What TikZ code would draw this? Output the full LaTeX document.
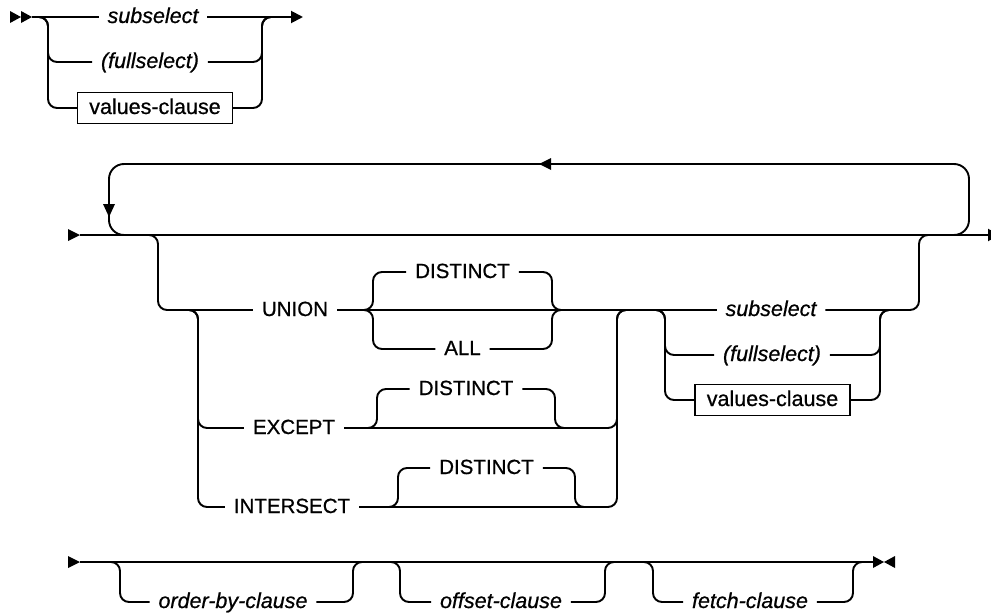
\documentclass[tikz,border=0pt]{standalone}
\usepackage{fontspec}
\setmainfont{Liberation Sans}
\usetikzlibrary{arrows.meta,positioning}

\begin{document}
\begin{tikzpicture}[
  x=1pt, y=-1pt,
  line width=1.9pt,
  rail/.style={rounded corners=9pt},
  back/.style={rounded corners=15pt},
  kw/.style={inner xsep=9pt, inner ysep=0pt, outer sep=0pt, text height=12pt,
             text depth=0pt, font=\fontsize{20.5}{24}\selectfont\addfontfeature{FakeBold=0.7}},
  var/.style={kw, font=\fontsize{21.5}{24}\selectfont\itshape\addfontfeature{FakeBold=0.7}},
  clause/.style={draw, line width=1.4pt, inner xsep=0pt, inner ysep=9.5pt, outer sep=0pt,
                 minimum width=155pt, text height=12pt, text depth=0pt,
                 font=\fontsize{21.5}{24}\selectfont\addfontfeature{FakeBold=0.7}},
  ar/.style={-{Triangle[length=12pt,width=12pt]}}
]
\useasboundingbox (0,0) rectangle (991,613);

% top line: subselect / (fullselect) / values-clause
\node[var] (s1) at (153,17) {subselect};
\node[var] (f1) at (150,62) {(fullselect)};
\node[clause] (v1) at (155,108) {values-clause};
\coordinate (a0) at (32,17);
\coordinate (a1) at (303,17);
\coordinate (tl) at (48,17);
\coordinate (tr) at (262,17);
\fill (10,11) -- (21,17) -- (10,23) -- cycle (21,11) -- (32,17) -- (21,23) -- cycle;
\draw (a0) -- (s1);
\draw[ar] (s1) -- (a1);
\foreach \n in {f1,v1} {
  \draw[rail] (a0) -| (tl |- \n) -- (\n);
  \draw[rail] (\n) -| (tr) -- ++(12,0);
}

% middle line with repeat loop
\coordinate (m0) at (80,235);
\coordinate (m1) at (1000,235);
\fill (68,229) -- (80,235) -- (68,241) -- cycle;
\draw[ar] (m0) -- (m1);
\draw[back] (950,235) -| (969,164) -| (109,235) -- (130,235);
\fill (551,158) -- (539,164) -- (551,170) -- cycle;
\fill (103,204) -- (109,217) -- (115,204) -- cycle;

% set operators
\node[kw] (un) at (295,310) {UNION};
\node[kw] (ex) at (294,428) {EXCEPT};
\node[kw] (it) at (292,507) {INTERSECT};
\foreach \n/\t/\l/\r/\y/\s in {d1/DISTINCT/373/552/310/272, al/ALL/373/552/310/349,
    d2/DISTINCT/377/555/428/389, d3/DISTINCT/398/575/507/468} {
  \node[kw] (\n) at ({(\l+\r)/2},\s) {\t};
  \draw[rail] ({\l-16},\y) -| (\l,\s) -- (\n);
  \draw[rail] (\n) -| (\r,\y) -- ({\r+16},\y);
}

% operand
\node[var] (s2) at (771,310) {subselect};
\node[var] (f2) at (772,355) {(fullselect)};
\node[clause] (v2) at (772.5,400) {values-clause};
\coordinate (gl) at (158,235);
\coordinate (gr) at (919,235);
\coordinate (ol) at (198,310);
\coordinate (or) at (617,310);
\coordinate (sl) at (665,310);
\coordinate (sr) at (880,310);
\draw[rail] ([xshift=-16pt]gl) -| (gl |- un) -- (un);
\draw (un) -- (s2);
\draw[rail] (s2) -| (gr) -- ++(14,0);
\foreach \n in {ex,it} {
  \draw[rail] ([xshift=-16pt]ol) -| (ol |- \n) -- (\n);
  \draw[rail] (\n) -| (or) -- ++(14,0);
}
\foreach \n in {f2,v2} {
  \draw[rail] ([xshift=-16pt]sl) -| (sl |- \n) -- (\n);
  \draw[rail] (\n) -| (sr) -- ++(14,0);
}

% bottom line: optional clauses
\coordinate (b0) at (80,562);
\coordinate (b1) at (873,562);
\fill (68,556) -- (80,562) -- (68,568) -- cycle;
\draw (b0) -- (b1);
\fill (873,556) -- (884,562) -- (873,568) -- cycle (895,556) -- (884,562) -- (895,568) -- cycle;
\foreach \n/\t/\l/\r/\c in {ob/order-by-clause/120/353/233, of/offset-clause/400/605/501,
    fe/fetch-clause/653/853/750} {
  \node[var] (\n) at (\c,602) {\t};
  \draw[rail] ({\l-16},562) -| (\l,602) -- (\n);
  \draw[rail] (\n) -| (\r,562) -- ({\r+16},562);
}
\end{tikzpicture}
\end{document}
